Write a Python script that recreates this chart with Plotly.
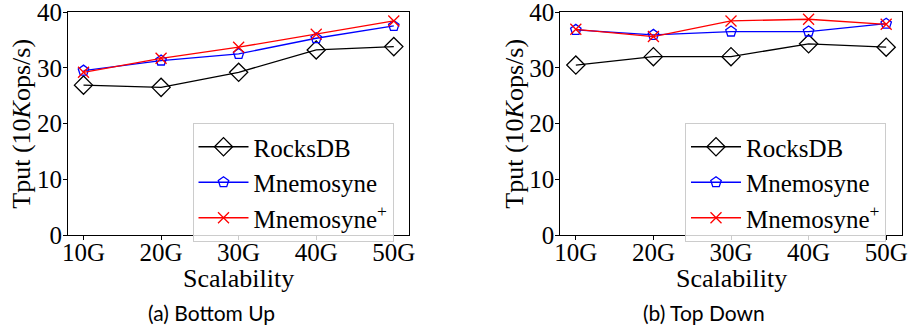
import plotly.graph_objects as go
from plotly.subplots import make_subplots

# Dataset sizes on the x axis
sizes = ["10G", "20G", "30G", "40G", "50G"]

# Throughput in units of 10K ops/s — (a) Bottom Up
bu_rocksdb = [26.9, 26.5, 29.2, 33.2, 33.8]
bu_mnemosyne = [29.5, 31.3, 32.5, 35.3, 37.5]
bu_mnemosyne_plus = [29.2, 31.7, 33.7, 36.0, 38.4]

# Throughput in units of 10K ops/s — (b) Top Down
td_rocksdb = [30.5, 32.0, 32.0, 34.3, 33.7]
td_mnemosyne = [36.8, 35.9, 36.5, 36.5, 37.9]
td_mnemosyne_plus = [36.9, 35.6, 38.4, 38.7, 37.8]

y_ticks = [0, 10, 20, 30, 40]
captions = ["(a) Bottom Up", "(b) Top Down"]

SERIF = "Liberation Serif"
SANS = "Lato"

styles = [
    ("RocksDB", "black", "diamond-open", 14),
    ("Mnemosyne", "#0000ff", "pentagon-open", 11),
    ("Mnemosyne<sup>+</sup>", "#ff0000", "x-thin-open", 11),
]

W, H = 911, 330
left_dom = [68 / W, 409.3 / W]
right_dom = [560.3 / W, 901.7 / W]
y_dom = [1 - 235.3 / H, 1 - 12 / H]

fig = make_subplots(rows=1, cols=2)

panels = [
    (1, [bu_rocksdb, bu_mnemosyne, bu_mnemosyne_plus], "legend"),
    (2, [td_rocksdb, td_mnemosyne, td_mnemosyne_plus], "legend2"),
]
for col, series, leg in panels:
    for (name, color, symbol, msize), vals in zip(styles, series):
        fig.add_trace(
            go.Scatter(
                x=sizes, y=vals, name=name, mode="lines+markers",
                line=dict(color=color, width=1.3),
                marker=dict(symbol=symbol, size=msize, color=color,
                            line=dict(color=color, width=1.3)),
                legend=leg,
            ),
            row=1, col=col,
        )

axis_common = dict(
    showline=True, linecolor="black", linewidth=1, mirror=True,
    ticks="outside", ticklen=4, tickcolor="black", tickwidth=1,
    showgrid=False, zeroline=False, ticklabeloverflow="allow",
    automargin=False,
    tickfont=dict(family=SERIF, size=25, color="black"),
)
for col, dom in [(1, left_dom), (2, right_dom)]:
    fig.update_xaxes(domain=dom, type="category", range=[-0.2, 4.2],
                     ticklabelstandoff=-9, row=1, col=col, **axis_common)
    fig.update_yaxes(domain=y_dom, range=[0, 40], tickvals=y_ticks,
                     ticklabelstandoff=-4, row=1, col=col, **axis_common)

annotations = []
for dom, cap, ytx in [(left_dom, captions[0], 22 / W), (right_dom, captions[1], 515 / W)]:
    cx = (dom[0] + dom[1]) / 2
    annotations.append(dict(
        x=cx, y=1 - 278 / H, xref="paper", yref="paper", text="Scalability",
        showarrow=False, font=dict(family=SERIF, size=26, color="black"),
        xanchor="center", yanchor="middle"))
    annotations.append(dict(
        x=ytx, y=(y_dom[0] + y_dom[1]) / 2, xref="paper", yref="paper",
        text="Tput (10<i>K</i>ops/s)", textangle=-90, showarrow=False,
        font=dict(family=SERIF, size=26, color="black"),
        xanchor="center", yanchor="middle"))
    annotations.append(dict(
        x=cx - 27 / W, y=1 - 312 / H, xref="paper", yref="paper", text=cap,
        showarrow=False, font=dict(family=SANS, size=21, color="black"),
        xanchor="center", yanchor="middle"))

legend_common = dict(
    font=dict(family=SERIF, size=25, color="black"),
    bgcolor="rgba(255,255,255,0.8)", bordercolor="#cccccc", borderwidth=1,
    xanchor="left", yanchor="top", tracegroupgap=0, itemwidth=50,
)
fig.update_layout(
    template="none",
    width=W, height=H,
    margin=dict(l=0, r=0, t=0, b=0, autoexpand=False),
    paper_bgcolor="white", plot_bgcolor="white",
    annotations=annotations,
    legend=dict(x=192.5 / W, y=1 - 123 / H, **legend_common),
    legend2=dict(x=685 / W, y=1 - 123 / H, **legend_common),
)

fig.write_html("out.html", post_script="document.body.style.margin='0';")
